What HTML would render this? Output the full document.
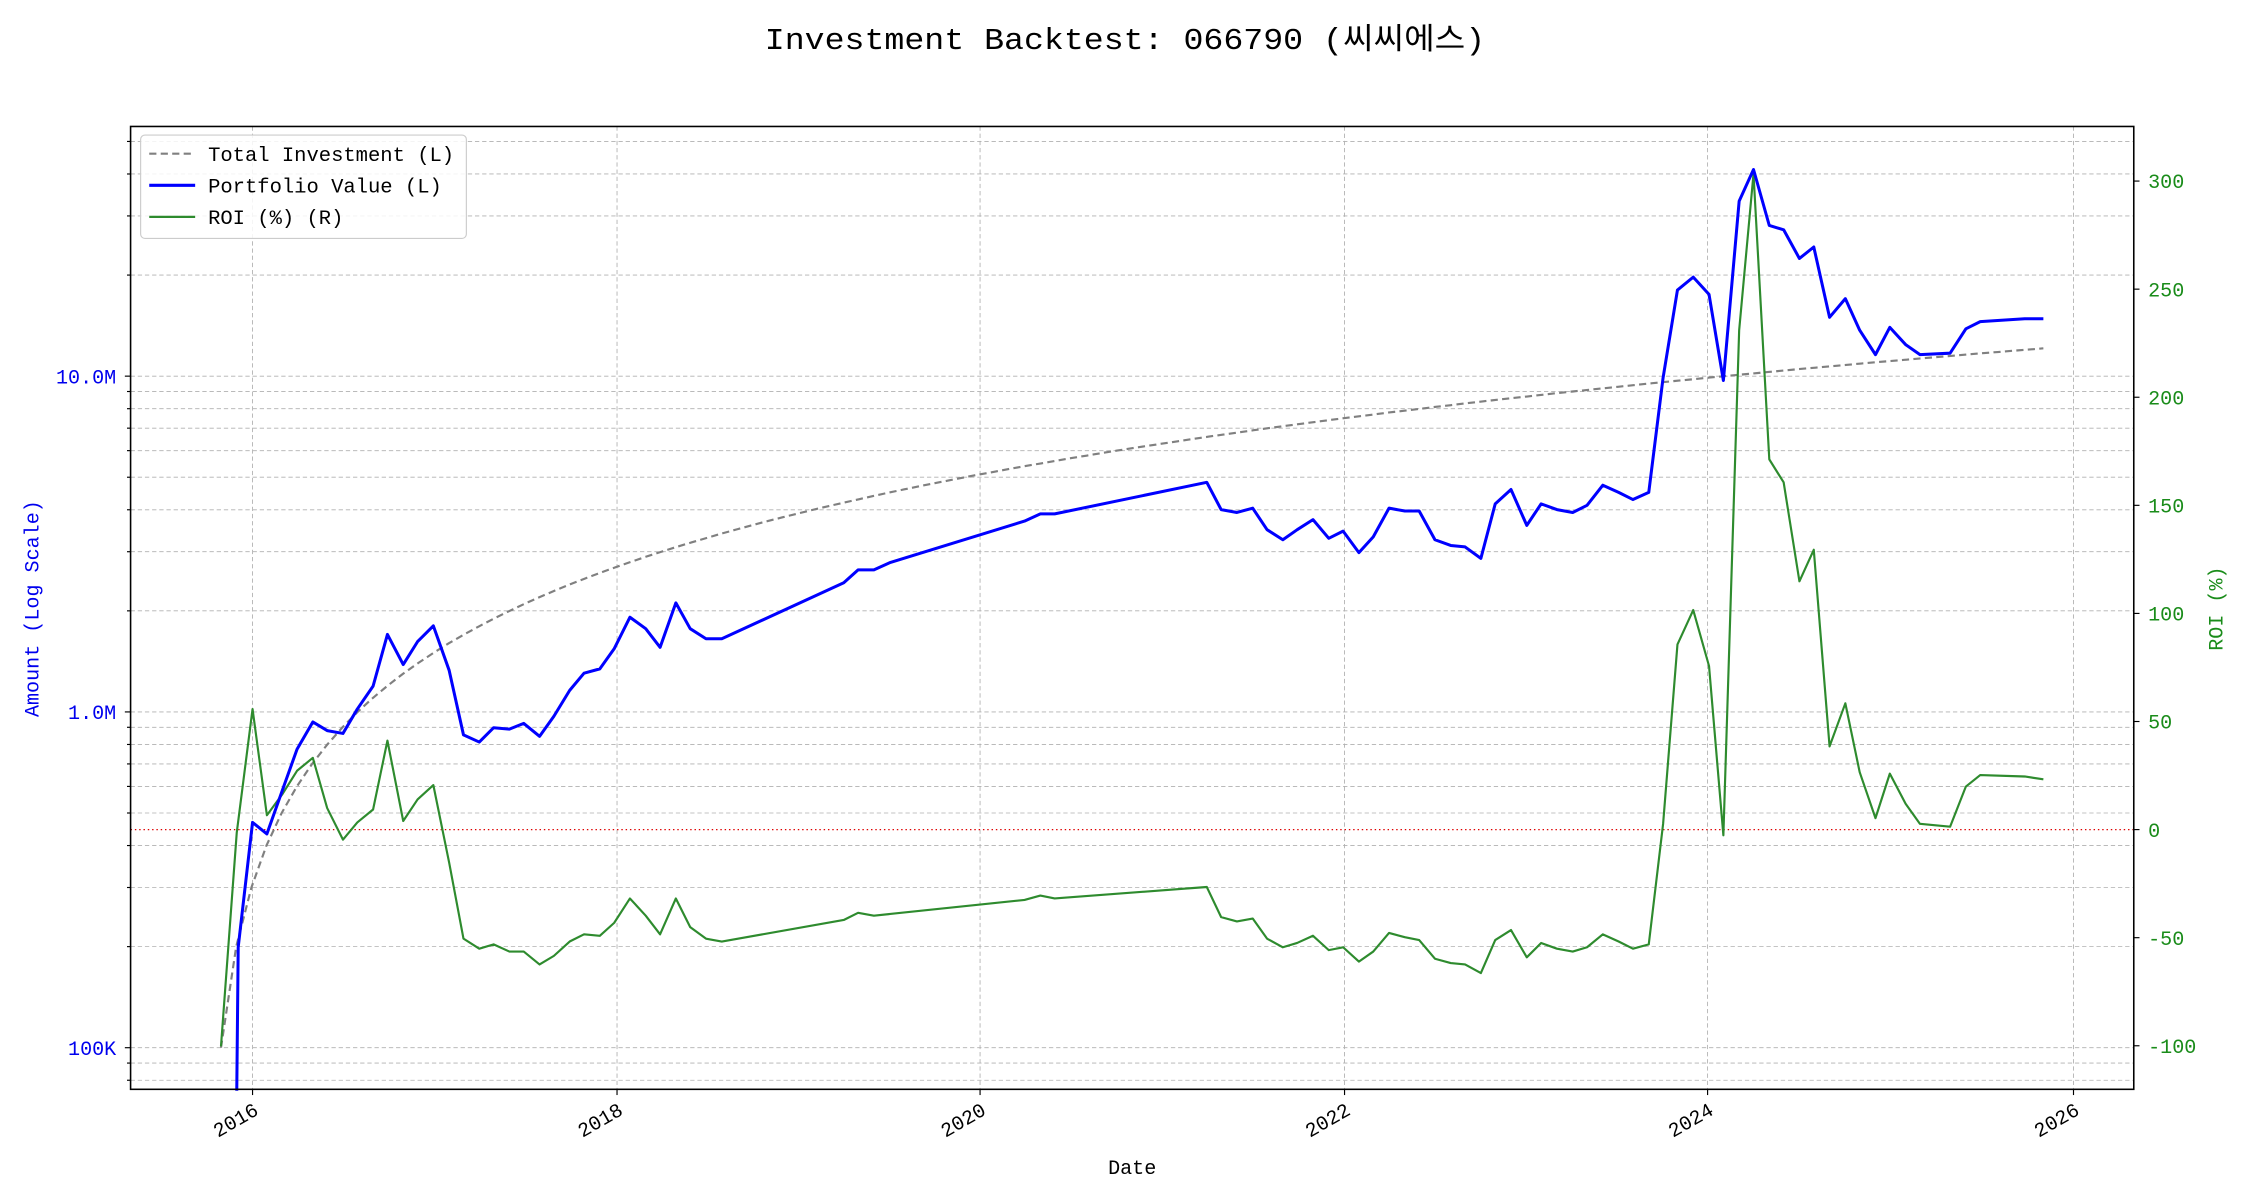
<!DOCTYPE html>
<html><head><meta charset="utf-8"><style>
html,body{margin:0;padding:0;background:#fff;}
svg{display:block;font-family:"Liberation Mono","DejaVu Sans Mono","Noto Sans CJK KR",monospace;}
</style></head><body>
<svg id="s" width="2250" height="1200" viewBox="0 0 1568 836" xmlns="http://www.w3.org/2000/svg">
<rect width="1568" height="836" fill="#fff"/>
<g id="grid"></g>
<g id="series"></g>
<rect x="91" y="88" width="1396" height="671" fill="none" stroke="#000" stroke-width="1.1"/>
<g id="ticks"></g>
<text x="533" y="34" font-size="21" textLength="502" lengthAdjust="spacingAndGlyphs" font-family="Liberation Mono, 'Noto Sans CJK KR', monospace">Investment Backtest: 066790 (씨씨에스)</text>
<text x="789" y="818" font-size="14" text-anchor="middle">Date</text>
<text transform="translate(27,424) rotate(-90)" font-size="14" text-anchor="middle" fill="#0000ee">Amount (Log Scale)</text>
<text transform="translate(1549,424) rotate(-90)" font-size="14" text-anchor="middle" fill="#1a8c1a">ROI (%)</text>
<g>
<rect x="98" y="94" width="227" height="72" rx="3" fill="#fff" fill-opacity="0.85" stroke="#ccc" stroke-width="0.8"/>
<line x1="104" y1="107" x2="136" y2="107" stroke="#808080" stroke-width="1.5" stroke-dasharray="5,3"/>
<line x1="104" y1="129" x2="136" y2="129" stroke="#0000ff" stroke-width="2.2"/>
<line x1="104" y1="151" x2="136" y2="151" stroke="#2e8b2e" stroke-width="1.6"/>
<text x="145" y="112" font-size="14.3">Total Investment (L)</text>
<text x="145" y="134" font-size="14.3">Portfolio Value (L)</text>
<text x="145" y="156" font-size="14.3">ROI (%) (R)</text>
</g>
</svg>
<script>
const NS="http://www.w3.org/2000/svg";
function el(p,t,a,txt){const e=document.createElementNS(NS,t);for(const k in a)e.setAttribute(k,a[k]);if(txt!==undefined)e.textContent=txt;document.getElementById(p).appendChild(e);return e;}
const L=91,R=1487,T=88,B=759;
function yv(v){return 730-(Math.log10(v)-5)*234;}
for(let d=4;d<=7;d++){for(let m=1;m<=9;m++){const v=m*Math.pow(10,d);const y=yv(v);if(y<T||y>B)continue;
el("grid","line",{x1:L,x2:R,y1:y,y2:y,stroke:"#b0b0b0","stroke-width":0.6,"stroke-dasharray":"3,2"});
el("ticks","line",{x1:L-(m==1?4:2.5),x2:L,y1:y,y2:y,stroke:"#000","stroke-width":0.8});}}
[[262,"10.0M"],[496,"1.0M"],[730,"100K"]].forEach(([y,t])=>el("ticks","text",{x:81,y:y+5,"font-size":14,"text-anchor":"end",fill:"#0000ee"},t));
const yrs=[[176,"2016"],[430,"2018"],[683,"2020"],[937,"2022"],[1190,"2024"],[1445,"2026"]];
yrs.forEach(([x,t])=>{el("grid","line",{x1:x,x2:x,y1:T,y2:B,stroke:"#b0b0b0","stroke-width":0.6,"stroke-dasharray":"3,2"});
el("ticks","line",{x1:x,x2:x,y1:B,y2:B+4,stroke:"#000","stroke-width":0.8});
el("ticks","text",{x:0,y:0,"font-size":14,"text-anchor":"end",transform:`translate(${x+5},${B+17}) rotate(-30)`},t);});
for(let r=-100;r<=300;r+=50){const y=578-r*1.5065;el("ticks","line",{x1:R,x2:R+4,y1:y,y2:y,stroke:"#000","stroke-width":0.8});
el("ticks","text",{x:R+10,y:y+5,"font-size":14,fill:"#1a8c1a"},String(r));}
el("series","line",{x1:L,x2:R,y1:578,y2:578,stroke:"#d00","stroke-width":0.9,"stroke-dasharray":"1,2"});
let ip=[];for(let n=1;n<=121;n++){const x=154+(n-1)*10.583;ip.push(x.toFixed(1)+","+yv(n*100000).toFixed(1));}
el("series","polyline",{points:ip.join(" "),fill:"none",stroke:"#808080","stroke-width":1.5,"stroke-dasharray":"5,3"});
const roi=[[154,729],[165,580],[176,494],[186,568],[197,553],[207,537],[218,528],[228,563],[239,585],[249,573],[260,564],[270,516],[281,572],[291,557],[302,547],[313,601],[323,654],[334,661],[344,658],[355,663],[365,663],[376,672],[386,666],[397,656],[407,651],[418,652],[428,643],[439,626],[450,638],[460,651],[471,626],[481,646],[492,654],[503,656],[588,641],[598,636],[609,638],[714,627],[725,624],[735,626],[841,618],[851,639],[862,642],[873,640],[883,654],[894,660],[904,657],[915,652],[926,662],[936,660],[947,670],[957,663],[968,650],[979,653],[989,655],[1000,668],[1011,671],[1021,672],[1032,678],[1042,655],[1053,648],[1064,667],[1074,657],[1085,661],[1096,663],[1106,660],[1117,651],[1128,656],[1138,661],[1149,658],[1159,574],[1169,449],[1180,425],[1191,464],[1201,582],[1212,230],[1222,121],[1233,320],[1243,336],[1254,405],[1264,383],[1275,520],[1286,490],[1296,538],[1307,570],[1317,539],[1328,560],[1338,574],[1359,576],[1370,548],[1380,540],[1411,541],[1424,543]];
el("series","polyline",{points:roi.map(p=>p.join(",")).join(" "),fill:"none",stroke:"#2e8b2e","stroke-width":1.5,"stroke-linejoin":"round"});
const pv=[[165,760],[166,660],[176,573],[186,581],[197,550],[207,522],[218,503],[228,509],[239,511],[249,494],[260,478],[270,442],[281,463],[291,447],[302,436],[313,467],[323,512],[334,517],[344,507],[355,508],[365,504],[376,513],[386,499],[397,481],[407,469],[418,466],[428,452],[439,430],[450,438],[460,451],[471,420],[481,438],[492,445],[503,445],[588,406],[598,397],[609,397],[620,392],[714,363],[725,358],[735,358],[841,336],[851,355],[862,357],[873,354],[883,369],[894,376],[904,369],[915,362],[926,375],[936,370],[947,385],[957,374],[968,354],[979,356],[989,356],[1000,376],[1011,380],[1021,381],[1032,389],[1042,351],[1053,341],[1064,366],[1074,351],[1085,355],[1096,357],[1106,352],[1117,338],[1128,343],[1138,348],[1149,343],[1159,263],[1169,202],[1180,193],[1191,205],[1201,265],[1212,140],[1222,118],[1233,157],[1243,160],[1254,180],[1264,172],[1275,221],[1286,208],[1296,230],[1307,247],[1317,228],[1328,240],[1338,247],[1359,246],[1370,229],[1380,224],[1411,222],[1424,222]];
el("series","polyline",{points:pv.map(p=>p.join(",")).join(" "),fill:"none",stroke:"#0000ff","stroke-width":2.1,"stroke-linejoin":"round"});
</script>
</body></html>
